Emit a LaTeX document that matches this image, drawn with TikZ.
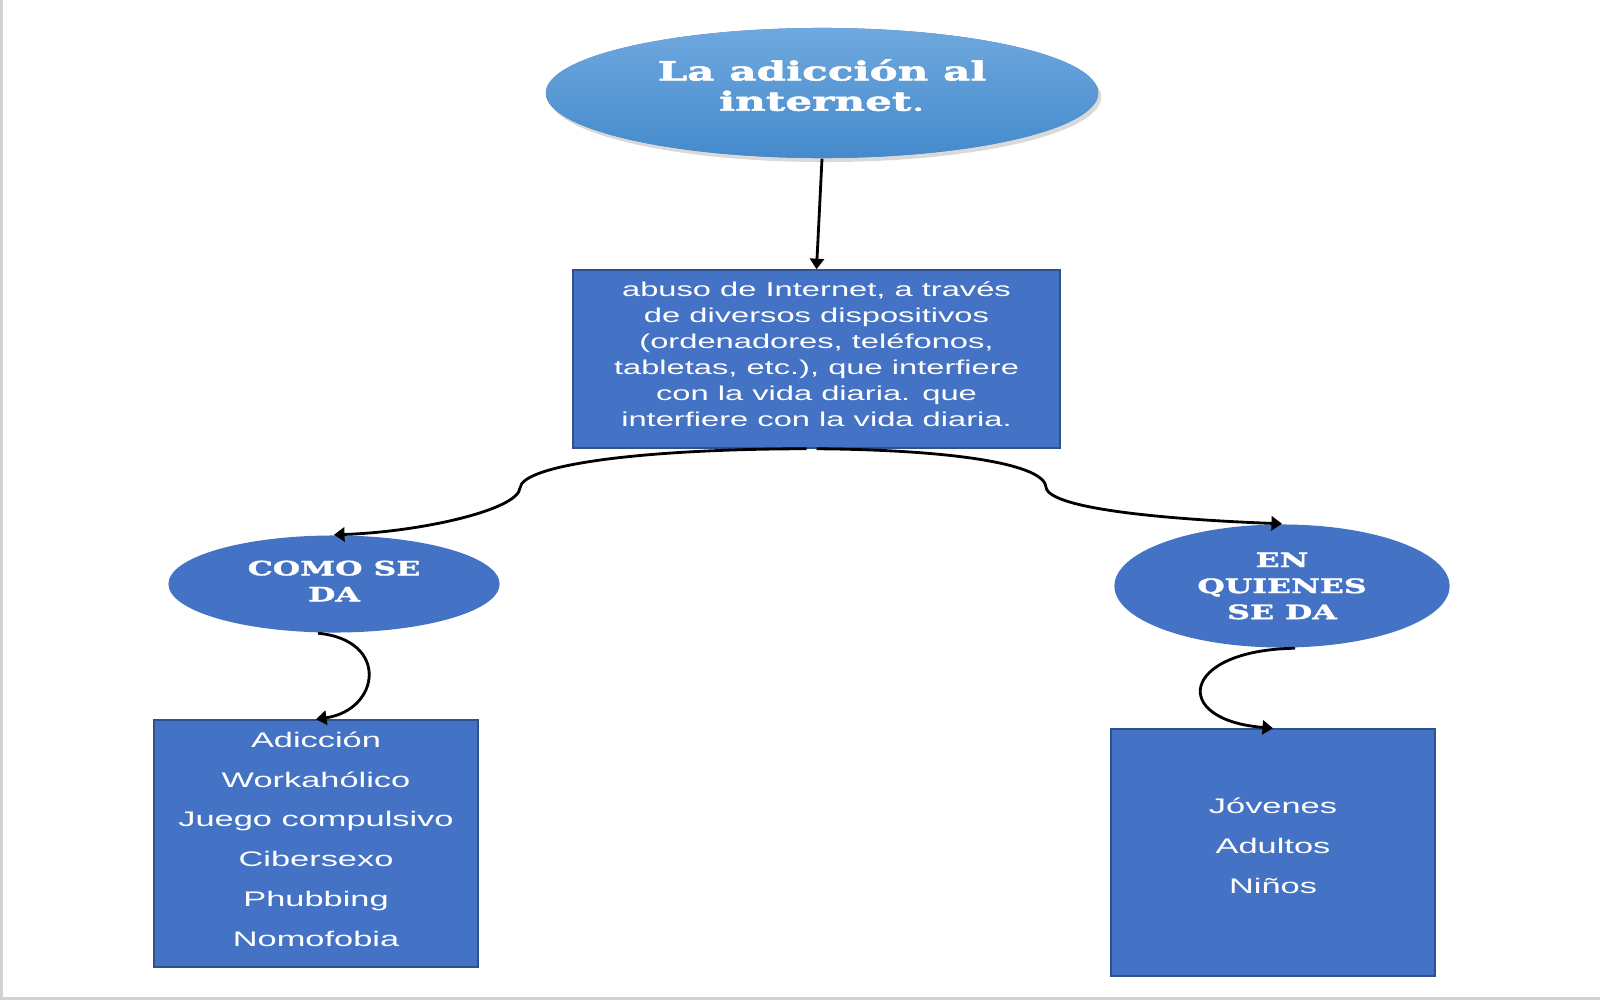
\documentclass[tikz,border=0pt]{standalone}
\usepackage{fontspec}
\newfontfamily\boxfont[FakeStretch=1.63]{Liberation Sans}
\newfontfamily\headfont[FakeStretch=1.6,FakeBold=2]{DejaVu Serif}
\usetikzlibrary{shapes.geometric,arrows.meta,shadows}
\definecolor{ofblue}{HTML}{4472C4}
\definecolor{ofline}{HTML}{2F528F}
\definecolor{topblue}{RGB}{111,168,222}
\definecolor{lowblue}{RGB}{68,138,204}

\begin{document}
\begin{tikzpicture}[x=0.01cm,y=-0.01cm,
  bubble/.style={ellipse,fill=ofblue,inner sep=0pt,text=white,align=center,
    font=\headfont\bfseries\fontsize{5.6pt}{7.4pt}\selectfont},
  card/.style={rectangle,fill=ofblue,draw=ofline,line width=0.4pt,inner sep=0pt,
    text=white,align=center,minimum width=3.24cm,minimum height=2.47cm},
  link/.style={-{Triangle[length=3pt,width=4pt]},line width=0.8pt}]

  \useasboundingbox (0,0) rectangle (1600,1000);
  \draw[gray!35,line width=0.9pt] (1.5,0) -- (1.5,998.5) -- (1600,998.5);

  \node[bubble,minimum width=5.52cm,minimum height=1.30cm,
    top color=topblue,bottom color=lowblue,
    drop shadow={opacity=0.3,shadow xshift=0.03cm,shadow yshift=-0.04cm},
    font=\headfont\bfseries\fontsize{7.5pt}{8.6pt}\selectfont] (adic) at (822,93)
    {La adicción al\\internet{\mdseries.}\rule[-0.16cm]{0pt}{0pt}};
  \node[card,minimum width=4.87cm,minimum height=1.78cm,
    font=\boxfont\fontsize{5.7pt}{7.4pt}\selectfont] (abuso) at (816.5,359)
    {abuso de Internet, a través\\de diversos dispositivos\\(ordenadores, teléfonos,\\tabletas, etc.), que interfiere\\con la vida diaria. que\\interfiere con la vida diaria.\rule[-0.1cm]{0pt}{0pt}};
  \node[bubble,minimum width=3.31cm,minimum height=0.97cm] (como) at (334,584)
    {COMO SE\\DA\rule[-0.06cm]{0pt}{0pt}};
  \node[bubble,minimum width=3.35cm,minimum height=1.23cm] (quien) at (1282,586)
    {EN\\QUIENES\\SE DA};
  \node[card,font=\boxfont\fontsize{6pt}{11.3pt}\selectfont] (tipos) at (316,843.5)
    {Adicción\\Workahólico\\Juego compulsivo\\Cibersexo\\Phubbing\\Nomofobia\rule[-0.09cm]{0pt}{0pt}};
  \node[card,font=\boxfont\fontsize{6pt}{11.3pt}\selectfont] (grupos) at (1273,852.5)
    {Jóvenes\\Adultos\\Niños\rule[-0.14cm]{0pt}{0pt}};

  \draw[link] (adic.south) -- (abuso.north);
  \draw[link] ([xshift=-0.1cm]abuso.south) .. controls (640,449) and (522,465) .. (520,488)
    .. controls (518,510) and (420,532) .. (como.north);
  \draw[link] (abuso.south) .. controls (960,450) and (1044,465) .. (1046,487)
    .. controls (1048,510) and (1180,520) .. (quien.north);
  \draw[link] ([xshift=-0.16cm]como.south) .. controls (390,640) and (380,710) .. (tipos.north);
  \draw[link] ([xshift=0.13cm]quien.south) .. controls (1180,650) and (1170,720) .. (grupos.north);
\end{tikzpicture}
\end{document}
